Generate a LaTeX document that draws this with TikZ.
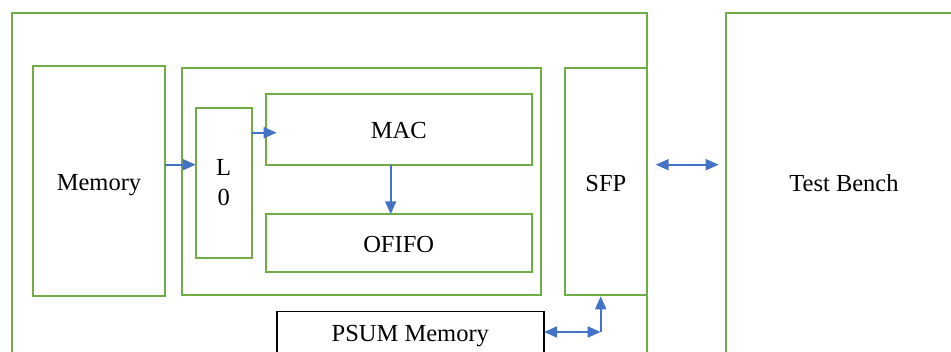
\documentclass[tikz,border=0pt]{standalone}
\usepackage{fontspec}
\setmainfont{Liberation Serif}
\usetikzlibrary{arrows.meta}
\definecolor{boxgreen}{HTML}{70AD47}
\definecolor{arrblue}{HTML}{4472C4}
\begin{document}
\begin{tikzpicture}[x=1pt,y=-1pt,
  txt/.style={font=\fontsize{24.5}{27}\selectfont,text height=19pt,text depth=0pt},
  gbox/.style={txt,draw=boxgreen,line width=1.8pt,rectangle,inner sep=0pt,outer sep=0pt,align=center},
  kbox/.style={gbox,draw=black},
  tip/.tip={Triangle[length=13pt,width=11pt]},
  arr/.style={draw=arrblue,line width=1.8pt,-tip},
  darr/.style={draw=arrblue,line width=1.8pt,tip-tip}]
\useasboundingbox (0,0) rectangle (951,352);
\clip (0,0) rectangle (951,352);
% outer boxes
\node[gbox,minimum width=634.7pt,minimum height=407.3pt] (outer) at (329.35,216.35) {};
\node[gbox,minimum width=236.6pt,minimum height=407.3pt] (tb) at (844,216.35) {};
\node[txt] (tbl) at (844,182) {Test Bench};
% inner
\node[gbox,minimum width=131.4pt,minimum height=229.7pt] (mem) at (99,180.85) {Memory};
\node[gbox,minimum width=359pt,minimum height=227pt] (mid) at (361.5,181.8) {};
\node[gbox,font=\fontsize{24.5}{30}\selectfont,text height={},text depth={},minimum width=56pt,minimum height=150pt] (l0) at (223.7,182.7) {L\\0};
\node[gbox,minimum width=266pt,minimum height=71pt] (mac) at (398.7,129.5) {MAC};
\node[gbox,minimum width=266pt,minimum height=57.4pt] (ofifo) at (398.7,243) {OFIFO};
\node[gbox,minimum width=81.7pt,minimum height=227.3pt] (sfp) at (605.85,181.65) {SFP};
\node[kbox,minimum width=267.3pt,minimum height=41pt] (psum) at (410.35,332) {PSUM Memory};
% helper coordinates
\coordinate (r1) at (0,164.7);
\coordinate (r2) at (0,132.7);
\coordinate (c3) at (390.7,0);
\coordinate (corner) at (600.7,332);
% connectors
\draw[arr] (mem.east |- r1) -- (l0.west |- r1);
\draw[arr] (l0.east |- r2) -- ([xshift=11pt]mac.west |- r2);
\draw[arr] (mac.south -| c3) -- (ofifo.north -| c3);
\draw[darr] ([xshift=9pt]sfp.east |- r1) -- ([xshift=-7pt]tb.west |- r1);
\draw[darr] (psum.east) -- (corner);
\draw[arr] (corner) -- ([yshift=-1pt]sfp.south -| corner);
\end{tikzpicture}
\end{document}
